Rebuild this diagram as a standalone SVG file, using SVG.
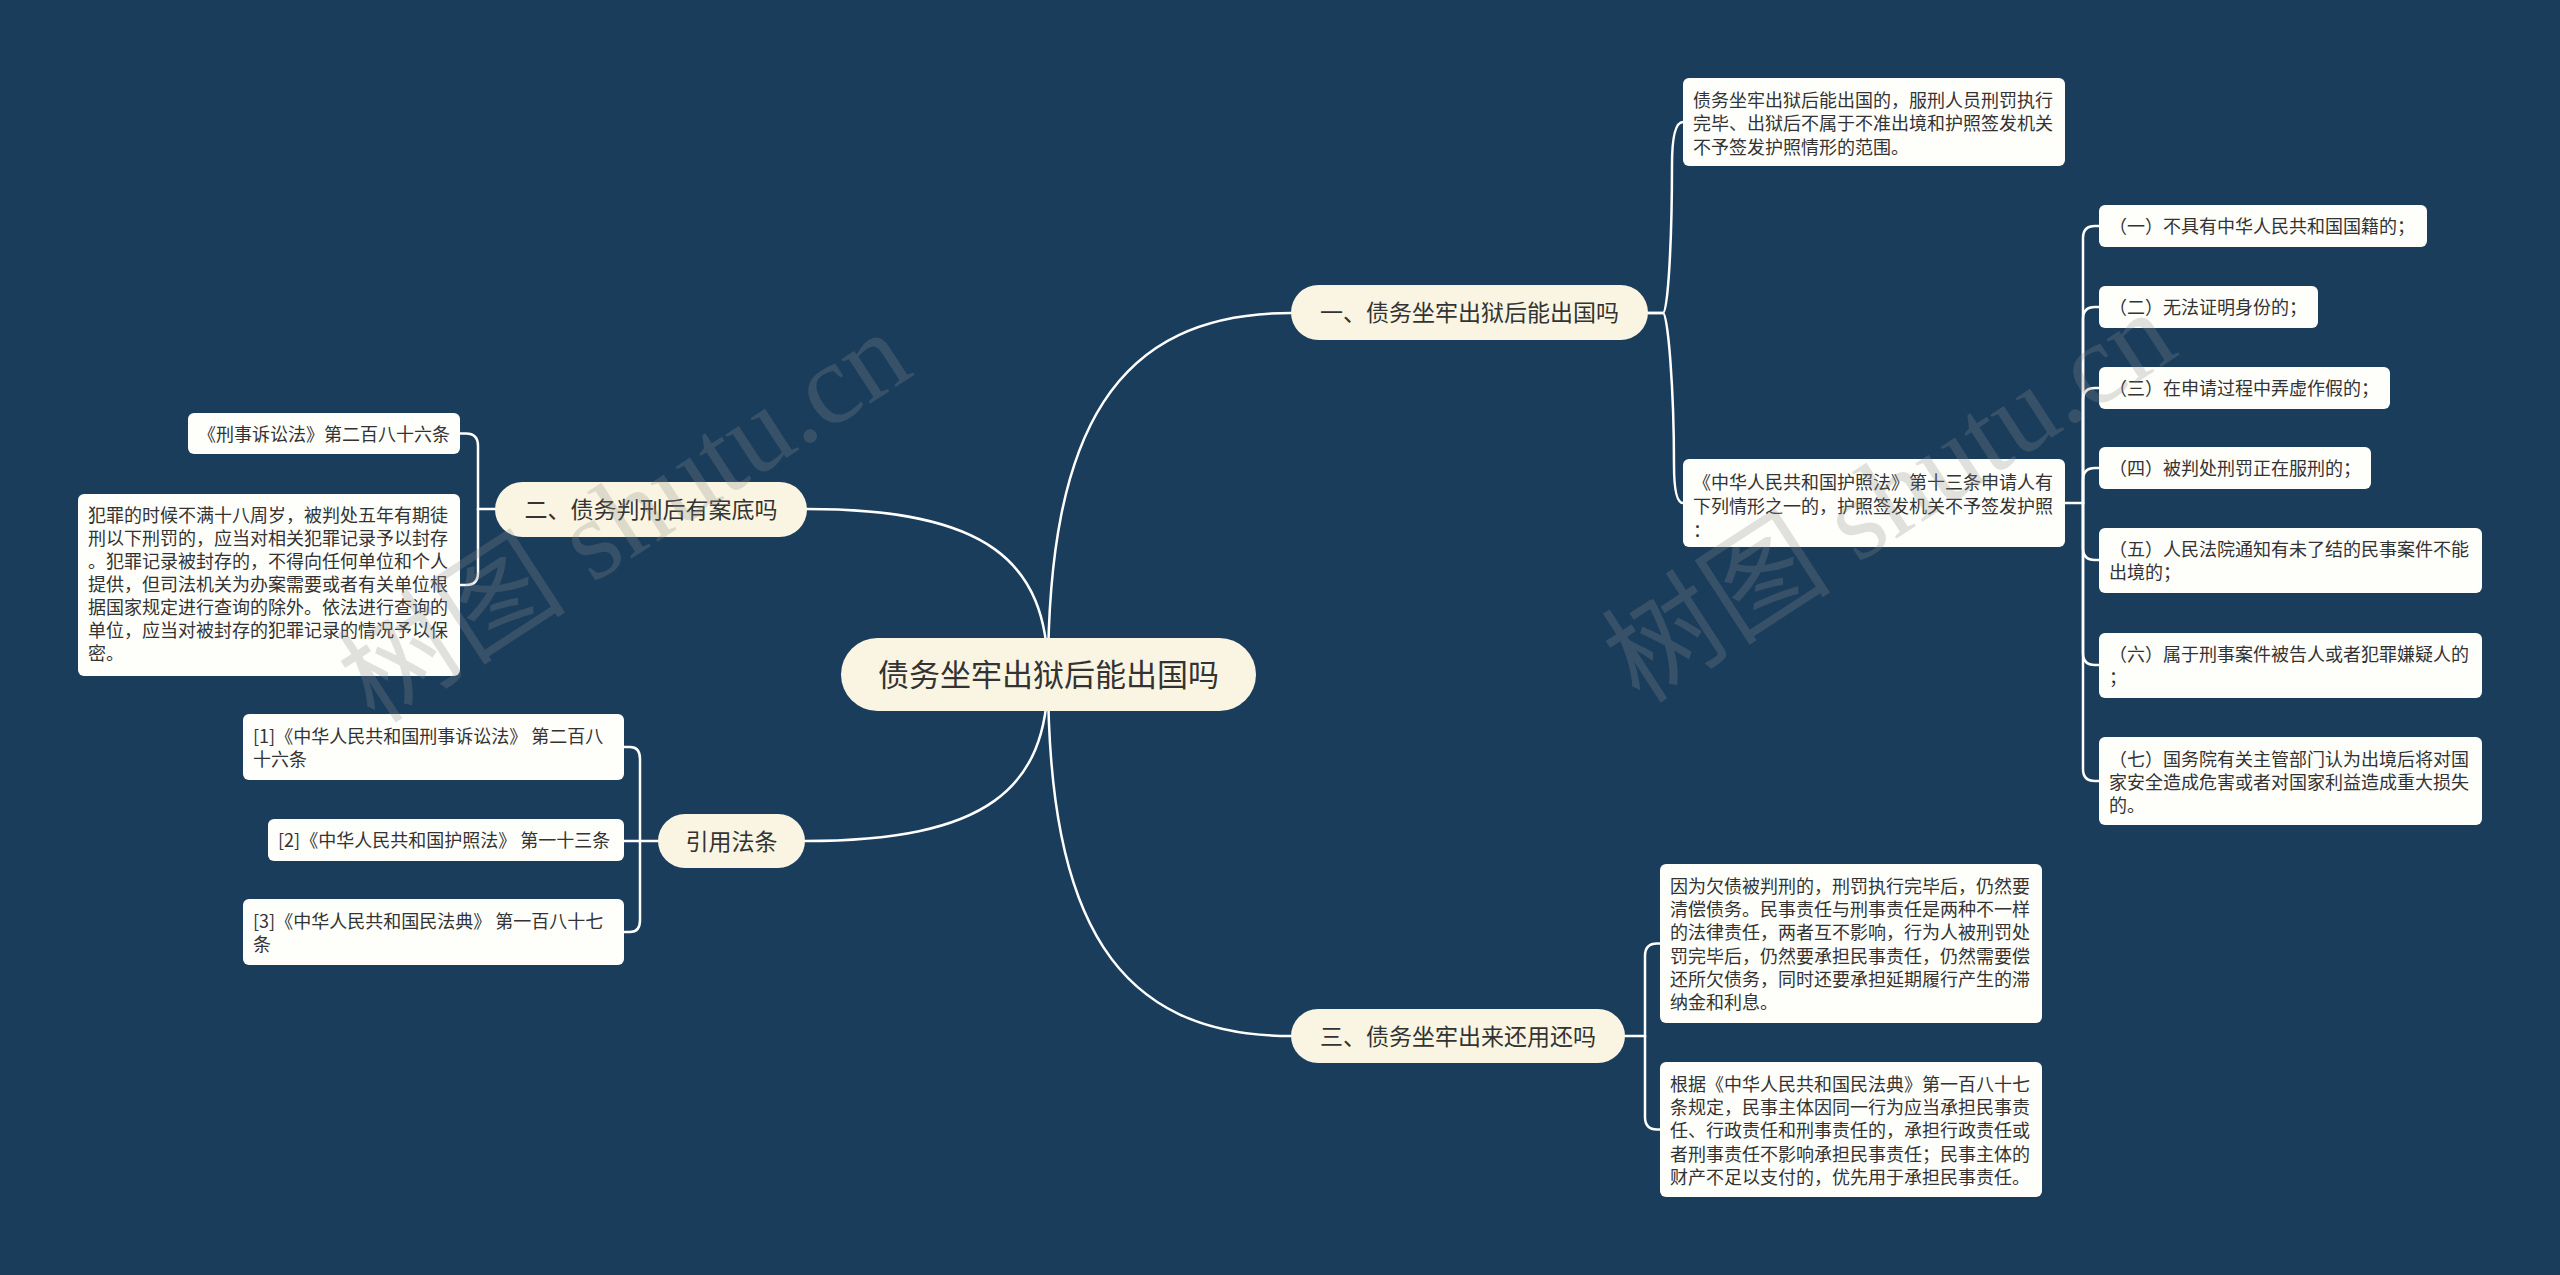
<svg xmlns="http://www.w3.org/2000/svg" width="2560" height="1275" viewBox="0 0 2560 1275">
<style>
.bg{fill:#1a3d5c}
.main{fill:#faf5e2}
.box{fill:#fefefa}
.t{font-family:"Noto Sans CJK SC","Noto Sans",sans-serif;fill:#333333}
.c{font-size:31px;text-anchor:middle}
.b{font-size:23px;text-anchor:middle}
.d{font-size:18px}
.wm{font-family:"Liberation Serif","Noto Sans CJK SC",serif;font-size:115px;fill:#8c8c8c;opacity:0.26}
#connectors path{fill:none;stroke:#ffffff;stroke-width:2.5;stroke-linecap:round}
</style>
<rect class="bg" x="0" y="0" width="2560" height="1275"/>
<g id="connectors">
<path d="M1048,675 C1048,430 1115,313 1291,313"/>
<path d="M1048,675 C1048,920 1115,1036 1291,1036"/>
<path d="M1048,675 C1048,560 985,509 807,509"/>
<path d="M1048,675 C1048,790 985,841 805,841"/>
<path d="M1648,313 H1663 C1668,313 1672,240 1672,165 Q1672,122 1683,122"/>
<path d="M1648,313 H1663 C1668,313 1674,390 1674,465 Q1674,503 1683,503"/>
<path d="M2065,503 H2083 V238 Q2083,226 2095,226 H2099"/>
<path d="M2083,503 V319 Q2083,307 2095,307 H2099"/>
<path d="M2083,503 V400 Q2083,388 2095,388 H2099"/>
<path d="M2083,503 V480 Q2083,468 2095,468 H2099"/>
<path d="M2083,503 V548 Q2083,560 2095,560 H2099"/>
<path d="M2083,503 V653 Q2083,665 2095,665 H2099"/>
<path d="M2083,503 V769 Q2083,781 2095,781 H2099"/>
<path d="M495,509 H478 V446 Q478,433.5 466,433.5 H460"/>
<path d="M478,509 V573 Q478,585 466,585 H460"/>
<path d="M658,841 H640 V759 Q640,747 630,747 H624"/>
<path d="M640,841 H624"/>
<path d="M640,841 V920 Q640,932 630,932 H624"/>
<path d="M1625,1036 H1645 V956 Q1645,943.5 1657,943.5 H1660"/>
<path d="M1645,1036 V1117 Q1645,1129.5 1657,1129.5 H1660"/>
</g>
<g id="central">
<rect class="main" x="841" y="638" width="415" height="73" rx="36.5"/>
<text class="t c" x="1048.5" y="686">债务坐牢出狱后能出国吗</text>
</g>
<g id="branch1">
<rect class="main" x="1291" y="285" width="357" height="55" rx="27.5"/>
<text class="t b" x="1469.5" y="321">一、债务坐牢出狱后能出国吗</text>
</g>
<g id="branch2">
<rect class="main" x="495" y="482" width="312" height="55" rx="27.5"/>
<text class="t b" x="651" y="518">二、债务判刑后有案底吗</text>
</g>
<g id="branch3">
<rect class="main" x="658" y="814" width="147" height="54" rx="27"/>
<text class="t b" x="731.5" y="850">引用法条</text>
</g>
<g id="branch4">
<rect class="main" x="1291" y="1009" width="334" height="54" rx="27"/>
<text class="t b" x="1458" y="1045">三、债务坐牢出来还用还吗</text>
</g>
<g id="boxA">
<rect class="box" x="1683" y="78" width="382" height="88" rx="6"/>
<text class="t d" x="1693"><tspan x="1693" y="106.5">债务坐牢出狱后能出国的，服刑人员刑罚执行</tspan><tspan x="1693" y="130">完毕、出狱后不属于不准出境和护照签发机关</tspan><tspan x="1693" y="153.5">不予签发护照情形的范围。</tspan></text>
</g>
<g id="boxB">
<rect class="box" x="1683" y="459" width="382" height="88" rx="6"/>
<text class="t d"><tspan x="1693" y="489">《中华人民共和国护照法》第十三条申请人有</tspan><tspan x="1693" y="513">下列情形之一的，护照签发机关不予签发护照</tspan><tspan x="1693" y="537">：</tspan></text>
</g>
<g id="item1">
<rect class="box" x="2099" y="205" width="328" height="42" rx="6"/>
<text class="t d" x="2109" y="233">（一）不具有中华人民共和国国籍的；</text>
</g>
<g id="item2">
<rect class="box" x="2099" y="286" width="219" height="42" rx="6"/>
<text class="t d" x="2109" y="314">（二）无法证明身份的；</text>
</g>
<g id="item3">
<rect class="box" x="2099" y="367" width="291" height="42" rx="6"/>
<text class="t d" x="2109" y="395">（三）在申请过程中弄虚作假的；</text>
</g>
<g id="item4">
<rect class="box" x="2099" y="447" width="272" height="42" rx="6"/>
<text class="t d" x="2109" y="475">（四）被判处刑罚正在服刑的；</text>
</g>
<g id="item5">
<rect class="box" x="2099" y="528" width="383" height="65" rx="6"/>
<text class="t d"><tspan x="2109" y="556">（五）人民法院通知有未了结的民事案件不能</tspan><tspan x="2109" y="579">出境的；</tspan></text>
</g>
<g id="item6">
<rect class="box" x="2099" y="633" width="383" height="65" rx="6"/>
<text class="t d"><tspan x="2109" y="661">（六）属于刑事案件被告人或者犯罪嫌疑人的</tspan><tspan x="2109" y="684">；</tspan></text>
</g>
<g id="item7">
<rect class="box" x="2099" y="737" width="383" height="88" rx="6"/>
<text class="t d"><tspan x="2109" y="766">（七）国务院有关主管部门认为出境后将对国</tspan><tspan x="2109" y="789">家安全造成危害或者对国家利益造成重大损失</tspan><tspan x="2109" y="812">的。</tspan></text>
</g>
<g id="boxC">
<rect class="box" x="1660" y="864" width="382" height="159" rx="6"/>
<text class="t d"><tspan x="1670" y="893">因为欠债被判刑的，刑罚执行完毕后，仍然要</tspan><tspan x="1670" y="916.2">清偿债务。民事责任与刑事责任是两种不一样</tspan><tspan x="1670" y="939.4">的法律责任，两者互不影响，行为人被刑罚处</tspan><tspan x="1670" y="962.6">罚完毕后，仍然要承担民事责任，仍然需要偿</tspan><tspan x="1670" y="985.8">还所欠债务，同时还要承担延期履行产生的滞</tspan><tspan x="1670" y="1009">纳金和利息。</tspan></text>
</g>
<g id="boxD">
<rect class="box" x="1660" y="1062" width="382" height="135" rx="6"/>
<text class="t d"><tspan x="1670" y="1091">根据《中华人民共和国民法典》第一百八十七</tspan><tspan x="1670" y="1114.2">条规定，民事主体因同一行为应当承担民事责</tspan><tspan x="1670" y="1137.4">任、行政责任和刑事责任的，承担行政责任或</tspan><tspan x="1670" y="1160.6">者刑事责任不影响承担民事责任；民事主体的</tspan><tspan x="1670" y="1183.8">财产不足以支付的，优先用于承担民事责任。</tspan></text>
</g>
<g id="boxL1">
<rect class="box" x="188" y="413" width="272" height="41" rx="6"/>
<text class="t d" x="198" y="440.5">《刑事诉讼法》第二百八十六条</text>
</g>
<g id="boxL2">
<rect class="box" x="78" y="494" width="382" height="182" rx="6"/>
<text class="t d"><tspan x="88" y="522">犯罪的时候不满十八周岁，被判处五年有期徒</tspan><tspan x="88" y="545">刑以下刑罚的，应当对相关犯罪记录予以封存</tspan><tspan x="88" y="568">。犯罪记录被封存的，不得向任何单位和个人</tspan><tspan x="88" y="591">提供，但司法机关为办案需要或者有关单位根</tspan><tspan x="88" y="614">据国家规定进行查询的除外。依法进行查询的</tspan><tspan x="88" y="637">单位，应当对被封存的犯罪记录的情况予以保</tspan><tspan x="88" y="660">密。</tspan></text>
</g>
<g id="ref1">
<rect class="box" x="243" y="714" width="381" height="66" rx="6"/>
<text class="t d"><tspan x="253" y="743">[1]《中华人民共和国刑事诉讼法》 第二百八</tspan><tspan x="253" y="766">十六条</tspan></text>
</g>
<g id="ref2">
<rect class="box" x="268" y="819" width="356" height="42" rx="6"/>
<text class="t d" x="278" y="847">[2]《中华人民共和国护照法》 第一十三条</text>
</g>
<g id="ref3">
<rect class="box" x="243" y="899" width="381" height="66" rx="6"/>
<text class="t d"><tspan x="253" y="928">[3]《中华人民共和国民法典》 第一百八十七</tspan><tspan x="253" y="951">条</tspan></text>
</g>
<g id="watermarks">
<text class="wm" transform="translate(375,725) rotate(-33)">树图 shutu.cn</text>
<text class="wm" transform="translate(1640,705) rotate(-33)">树图 shutu.cn</text>
</g>
</svg>
